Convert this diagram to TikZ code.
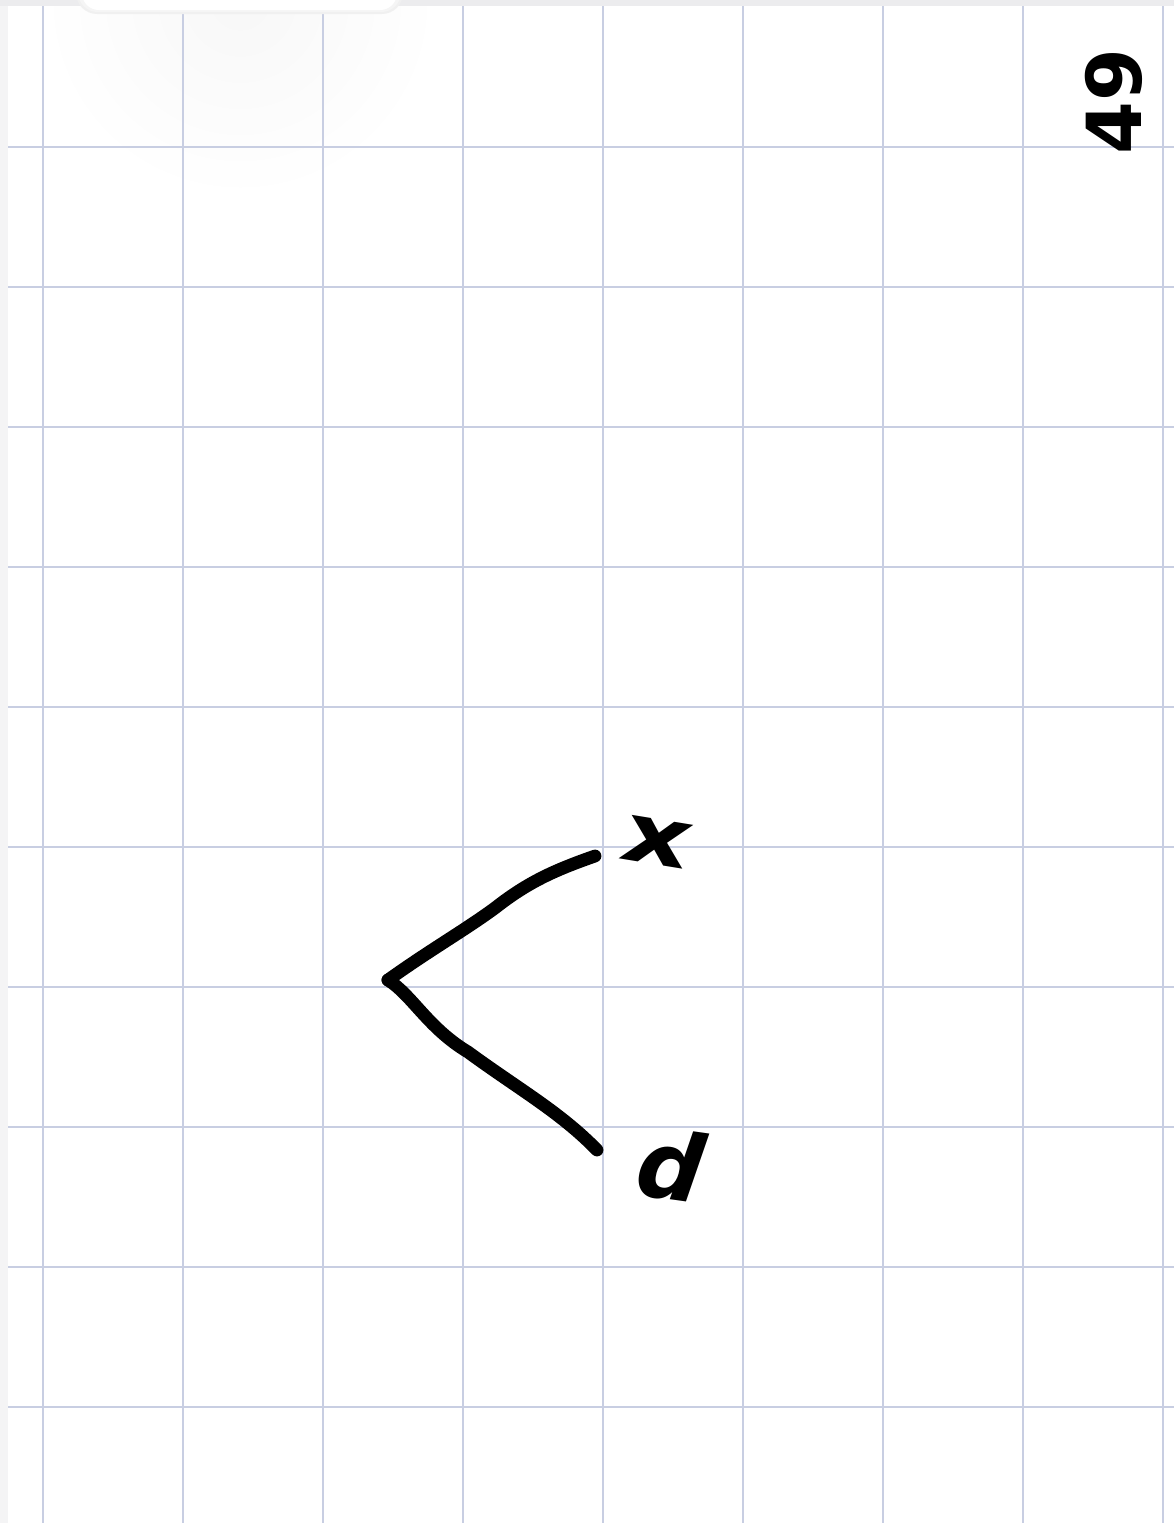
\documentclass[tikz,border=0pt]{standalone}
\usepackage{fontspec}
\setmainfont{DejaVu Sans}
\begin{document}
\begin{tikzpicture}[x=0.25mm,y=-0.25mm,
  gridline/.style={draw=gridblue,line width=0.45mm},
  branch/.style={draw=black,line width=3.2mm,line cap=round,line join=round},
  hand/.style={font=\fontsize{54}{54}\selectfont\bfseries,inner sep=0pt,text=black}]
\definecolor{gridblue}{RGB}{200,206,226}
\definecolor{edgegray}{RGB}{236,236,238}
\useasboundingbox (0,0) rectangle (1174,1523);
\fill[white] (0,0) rectangle (1174,1523);
% soft shading near top-left
\shade[inner color=black!3,outer color=white] (240,0) circle (200);
% page edges
\fill[edgegray] (0,0) rectangle (1174,6);
\fill[edgegray!60] (0,6) rectangle (8,1523);
% grid
\foreach \gx in {43,183,...,1163} \draw[gridline] (\gx,6) -- (\gx,1523);
\foreach \gy in {147,287,...,1407} \draw[gridline] (8,\gy) -- (1174,\gy);
% rounded tab at top
\fill[black!6,rounded corners=15] (76,-20) rectangle (403,14);
\fill[black!4,rounded corners=14] (78,-20) rectangle (401,12);
\fill[white,rounded corners=12] (82,-20) rectangle (397,10);
% page number (rotated)
\node[hand,rotate=90] (pg) at (1114,102) {49};
% tree
\coordinate (root) at (388,980);
\coordinate (lx) at (595,856);
\coordinate (ld) at (597,1150);
\draw[branch] (root) .. controls (430,950) and (465,930) .. (495,908)
  .. controls (528,882) and (555,870) .. (lx);
\draw[branch] (root) .. controls (412,995) and (428,1028) .. (468,1052)
  .. controls (520,1090) and (560,1112) .. (ld);
\node[hand,font=\fontsize{58}{58}\selectfont\bfseries,xscale=1.3,rotate=-12] (x) at (657,842) {x};
\node[hand,font=\fontsize{66}{66}\selectfont\bfseries\itshape,rotate=-8] (d) at (671,1165) {d};
\end{tikzpicture}
\end{document}
